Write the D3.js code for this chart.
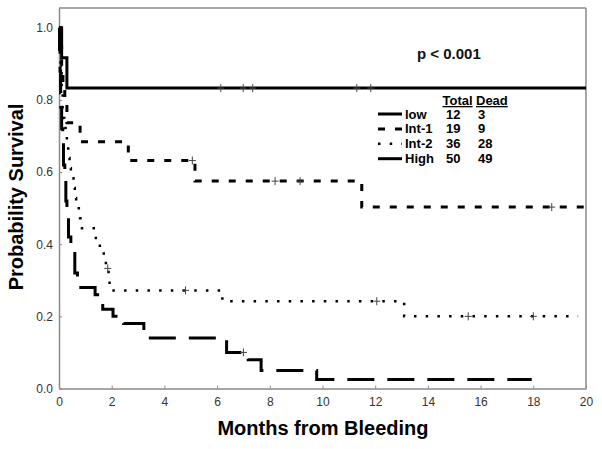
<!DOCTYPE html>
<html>
<head>
<meta charset="utf-8">
<script src="https://cdn.jsdelivr.net/npm/d3@7"></script>
<style>
  html, body { margin: 0; padding: 0; background: #fff; }
  svg { display: block; font-family: "Liberation Sans", Arial, sans-serif; }
</style>
</head>
<body>
<svg id="chart" width="602" height="449"></svg>
<script>
// ---- data ----
const xTicks = [0, 2, 4, 6, 8, 10, 12, 14, 16, 18, 20];
const yTicks = [0.0, 0.2, 0.4, 0.6, 0.8, 1.0];
const groups = ["low", "Int-1", "Int-2", "High"];
const totals = [12, 19, 36, 50];
const deaths = [3, 9, 28, 49];
const pText = "p < 0.001";

// Kaplan-Meier steps: [months, survival]
const lowSteps = [[0, 1.0], [0.1, 0.917], [0.3, 0.833], [20, 0.833]];
const int1Steps = [[0, 1.0], [0.05, 0.947], [0.1, 0.895], [0.15, 0.842], [0.22, 0.789], [0.3, 0.737],
  [0.8, 0.684], [2.63, 0.632], [5.16, 0.575], [11.49, 0.503], [20, 0.503]];
const int2Steps = [[0, 1.0], [0.03, 0.944], [0.06, 0.889], [0.1, 0.833], [0.14, 0.778], [0.18, 0.75],
  [0.2, 0.722], [0.25, 0.694], [0.35, 0.639], [0.4, 0.611], [0.45, 0.583], [0.55, 0.556],
  [0.6, 0.528], [0.65, 0.5], [0.8, 0.472], [0.87, 0.444], [1.4, 0.417], [1.55, 0.389],
  [1.7, 0.361], [1.78, 0.333], [1.88, 0.303], [1.92, 0.272], [6.2, 0.242], [13.1, 0.2], [19.7, 0.2]];
const highSteps = [[0, 1.0], [0.02, 0.94], [0.04, 0.88], [0.06, 0.82], [0.07, 0.78], [0.1, 0.72],
  [0.14, 0.68], [0.17, 0.62], [0.22, 0.58], [0.26, 0.52], [0.3, 0.48], [0.36, 0.42], [0.45, 0.40],
  [0.55, 0.38], [0.6, 0.32], [0.7, 0.28], [1.37, 0.26], [1.66, 0.22], [2.05, 0.2], [2.45, 0.18],
  [3.22, 0.14], [6.36, 0.10], [7.18, 0.08], [7.67, 0.05], [9.78, 0.025], [17.94, 0.025]];

// censored observations: [months, survival]
const lowCensor = [[6.14, 0.833], [6.99, 0.833], [7.35, 0.833], [11.3, 0.833], [11.83, 0.833]];
const int1Censor = [[5.06, 0.632], [8.2, 0.575], [9.15, 0.575], [18.7, 0.503]];
const int2Censor = [[1.85, 0.333], [4.8, 0.272], [12.06, 0.242], [15.53, 0.2], [18.0, 0.2]];
const highCensor = [[7.0, 0.10]];

// ---- styles ----
const seriesStyle = [
  { steps: lowSteps, censor: lowCensor, width: 3, dash: null },
  { steps: int1Steps, censor: int1Censor, width: 3, dash: "7,10" },
  { steps: int2Steps, censor: int2Censor, width: 2.5, dash: "2.5,9.2" },
  { steps: highSteps, censor: highCensor, width: 3, dash: "27,13" }
];

const svg = d3.select("#chart");
const x = d3.scaleLinear().domain([0, 20]).range([59, 586]);
const y = d3.scaleLinear().domain([0, 1.055]).range([388.5, 8]);
const axisColor = "#8a8a8a";

// frame (top & right)
svg.append("line").attr("x1", x(0)).attr("x2", x(20)).attr("y1", y(1.055)).attr("y2", y(1.055))
  .attr("stroke", axisColor).attr("stroke-width", 1.5);
svg.append("line").attr("x1", x(20)).attr("x2", x(20)).attr("y1", y(1.055)).attr("y2", y(0))
  .attr("stroke", axisColor).attr("stroke-width", 1.5);

// axes
const xAxis = svg.append("g").attr("transform", `translate(0,${y(0)})`)
  .call(d3.axisBottom(x).tickValues(xTicks).tickFormat(d3.format("d")).tickSizeInner(-3).tickSizeOuter(0).tickPadding(9));
const yAxis = svg.append("g").attr("transform", `translate(${x(0)},0)`)
  .call(d3.axisLeft(y).tickValues(yTicks).tickFormat(d3.format(".1f")).tickSizeInner(-3).tickSizeOuter(0).tickPadding(6));
[xAxis, yAxis].forEach(g => {
  g.select(".domain").attr("stroke", axisColor).attr("stroke-width", 1.5);
  g.selectAll(".tick line").attr("stroke", axisColor).attr("stroke-width", 1);
  g.selectAll(".tick text").attr("fill", "#333").style("font-size", "12px")
    .style("font-family", '"Liberation Sans", Arial, sans-serif');
});

// curves
const line = d3.line().x(d => x(d[0])).y(d => y(d[1])).curve(d3.curveStepAfter);
seriesStyle.forEach(s => {
  svg.append("path").datum(s.steps).attr("d", line)
    .attr("fill", "none").attr("stroke", "#000").attr("stroke-width", s.width)
    .attr("stroke-dasharray", s.dash);
});

// censor marks
seriesStyle.forEach(s => {
  const g = svg.append("g");
  s.censor.forEach(c => {
    const cx = x(c[0]), cy = y(c[1]);
    g.append("line").attr("x1", cx - 3.5).attr("x2", cx + 3.5).attr("y1", cy).attr("y2", cy)
      .attr("stroke", "#444").attr("stroke-width", 1);
    g.append("line").attr("x1", cx).attr("x2", cx).attr("y1", cy - 4).attr("y2", cy + 4)
      .attr("stroke", "#444").attr("stroke-width", 1);
  });
});

// p-value
svg.append("text").attr("x", 417).attr("y", 59).text(pText)
  .style("font-size", "15px").style("font-weight", "bold").attr("fill", "#111");

// legend
const leg = svg.append("g");
leg.append("text").attr("x", 442.5).attr("y", 105).text("Total")
  .style("font-size", "13px").style("font-weight", "bold").style("text-decoration", "underline");
leg.append("text").attr("x", 476).attr("y", 105).text("Dead")
  .style("font-size", "13px").style("font-weight", "bold").style("text-decoration", "underline");
groups.forEach((gname, i) => {
  const by = 118.5 + i * 14.9;
  const st = seriesStyle[i];
  leg.append("line").attr("x1", 378).attr("x2", 402).attr("y1", by - 4.5).attr("y2", by - 4.5)
    .attr("stroke", "#000").attr("stroke-width", st.width).attr("stroke-dasharray", st.dash);
  leg.append("text").attr("x", 405).attr("y", by).text(gname)
    .style("font-size", "13px").style("font-weight", "bold");
  leg.append("text").attr("x", 446).attr("y", by).text(totals[i])
    .style("font-size", "13px").style("font-weight", "bold");
  leg.append("text").attr("x", 478).attr("y", by).text(deaths[i])
    .style("font-size", "13px").style("font-weight", "bold");
});

// axis titles
svg.append("text").attr("x", 323).attr("y", 435).attr("text-anchor", "middle")
  .text("Months from Bleeding").style("font-size", "20px").style("font-weight", "bold");
svg.append("text").attr("transform", "translate(23,197) rotate(-90)").attr("text-anchor", "middle")
  .text("Probability Survival").style("font-size", "20px").style("font-weight", "bold");
</script>
</body>
</html>
